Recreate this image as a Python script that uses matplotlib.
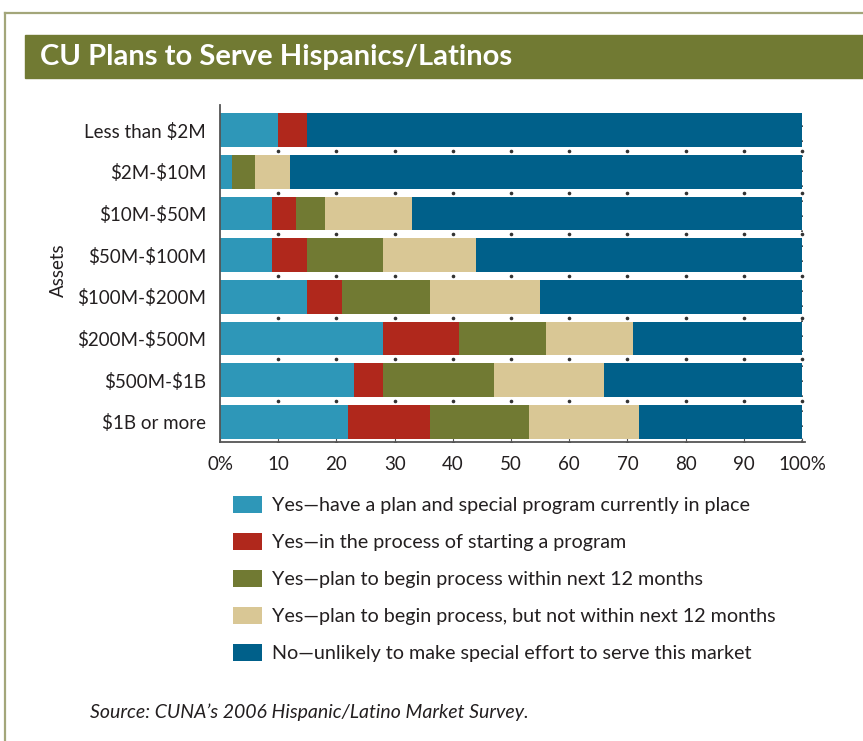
# CU Plans to Serve Hispanics/Latinos - stacked horizontal bar chart
import matplotlib
matplotlib.use("Agg")
import numpy as np
import matplotlib.pyplot as plt
from matplotlib.patches import Rectangle
from matplotlib.lines import Line2D

# data (percent of credit unions, by asset size)
assets = ["Less than $2M", "$2M-$10M", "$10M-$50M", "$50M-$100M",
          "$100M-$200M", "$200M-$500M", "$500M-$1B", "$1B or more"]
have_plan = [10, 2, 9, 9, 15, 28, 23, 22]
starting = [5, 0, 4, 6, 6, 13, 5, 14]
within_12 = [0, 4, 5, 13, 15, 15, 19, 17]
not_within_12 = [0, 6, 15, 16, 19, 15, 19, 19]
unlikely = [85, 88, 67, 56, 45, 29, 34, 28]

series_labels = [
    "Yes\u2014have a plan and special program currently in place",
    "Yes\u2014in the process of starting a program",
    "Yes\u2014plan to begin process within next 12 months",
    "Yes\u2014plan to begin process, but not within next 12 months",
    "No\u2014unlikely to make special effort to serve this market",
]
x_ticks = [0, 10, 20, 30, 40, 50, 60, 70, 80, 90, 100]
x_ticklabels = ["0%", "10", "20", "30", "40", "50", "60", "70", "80", "90", "100%"]

colors = ["#2E97B8", "#B0281C", "#717A33", "#D9C795", "#00608A"]
olive = "#717A33"

plt.rcParams["font.family"] = ["Lato", "DejaVu Sans"]
plt.rcParams["text.parse_math"] = False

W, H = 863, 741
fig = plt.figure(figsize=(W / 100, H / 100), dpi=100)

# outer frame lines
fig.add_artist(Line2D([5 / W, 1], [1 - 13 / H, 1 - 13 / H], color="#A3A67A", lw=1.6))
fig.add_artist(Line2D([5 / W, 5 / W], [0, 1 - 13 / H], color="#A3A67A", lw=1.6))

# title banner
fig.patches.append(Rectangle((25 / W, 1 - 78 / H), 1 - 25 / W, 43 / H,
                             transform=fig.transFigure, color=olive, zorder=0))
fig.text(40 / W, 1 - 57 / H, "CU Plans to Serve Hispanics/Latinos", color="white",
         fontsize=21, fontweight="bold", va="center", ha="left")

ax = fig.add_axes([220 / W, 1 - 442 / H, 585 / W, 337 / H])

y = np.arange(len(assets))
series = [have_plan, starting, within_12, not_within_12, unlikely]
left = np.zeros(len(assets))
handles = []
for vals, col, lab in zip(series, colors, series_labels):
    b = ax.barh(y, vals, left=left, height=0.81, color=col, label=lab, zorder=2)
    handles.append(b)
    left += np.array(vals)

# dotted grid between bars
for i in range(len(assets)):
    ax.plot(x_ticks[1:], [i + 0.5] * (len(x_ticks) - 1), linestyle="none",
            marker="o", markersize=1.6, color="#333333", zorder=1)
ax.axvline(100, ymin=0.0, ymax=0.95, color="#333333", lw=1.2,
           linestyle=(0, (1, 8)), zorder=1)

ax.set_xlim(0, 100.5)
ax.set_ylim(len(assets) - 0.52, -0.6)
ax.set_yticks(y)
ax.set_yticklabels(assets, fontsize=13.5, color="#231F20")
ax.set_xticks(x_ticks)
ax.set_xticklabels(x_ticklabels, fontsize=13.5, color="#231F20")
ax.tick_params(axis="y", length=0, pad=10)
ax.tick_params(axis="x", direction="in", length=3, pad=10, color="#555555")
for s in ["top", "right"]:
    ax.spines[s].set_visible(False)
for s in ["left", "bottom"]:
    ax.spines[s].set_color("#555555")
    ax.spines[s].set_linewidth(1.3)

fig.text(58 / W, 1 - 270 / H, "Assets", rotation=90, fontsize=13.5,
         color="#231F20", ha="center", va="center")

fig.legend(handles=handles, loc="upper left",
           bbox_to_anchor=(233 / W, 1 - 496 / H), frameon=False,
           fontsize=14.2, handlelength=1.45, handleheight=0.95,
           handletextpad=0.55, labelspacing=0.95, borderpad=0,
           borderaxespad=0, labelcolor="#231F20")

fig.text(90 / W, 1 - 712 / H, "Source: CUNA\u2019s 2006 Hispanic/Latino Market Survey.",
         fontsize=14, style="italic", color="#231F20", va="center")

fig.savefig("out.png", dpi=100, facecolor="white")
